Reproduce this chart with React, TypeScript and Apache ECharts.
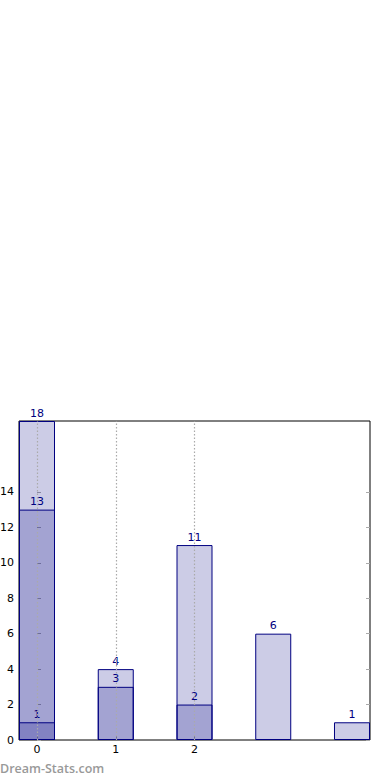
import React, { useEffect, useRef } from "react";
import * as echarts from "echarts";

const positions = [0, 1, 2, 3, 4];
const totalValues = [18, 4, 11, 6, 1];
const midValues: (number | null)[] = [13, 3, 2, null, null];
const lowValues: (number | null)[] = [1, null, null, null, null];
const xTickLabels = [0, 1, 2];
const yTickLabels = [0, 2, 4, 6, 8, 10, 12, 14];

const NAVY = "#000080";
const FILL = "rgba(0,0,128,0.2)";

function toPairs(vals: (number | null)[]) {
  return positions
    .map((p, i) => (vals[i] == null ? null : [p, vals[i]]))
    .filter((d) => d !== null);
}

export default function App() {
  const ref = useRef<HTMLDivElement>(null);
  useEffect(() => {
    document.body.style.margin = "0";
    const chart = echarts.init(ref.current!, null, { renderer: "svg" });
    const barBase = {
      type: "bar",
      barWidth: 36,
      barGap: "-100%",
      itemStyle: { color: FILL, borderColor: NAVY, borderWidth: 1 },
      label: {
        show: true,
        position: "top",
        distance: 2.5,
        color: NAVY,
        fontSize: 11,
        fontFamily: "DejaVu Sans",
      },
      emphasis: { disabled: true },
      silent: true,
    };
    chart.setOption({
      animation: false,
      grid: {
        left: 19,
        right: 20,
        top: 421,
        bottom: 40,
        show: true,
        borderColor: "#000",
        borderWidth: 1,
        backgroundColor: "transparent",
        outerBoundsMode: "none",
        containLabel: false,
      },
      xAxis: {
        type: "value",
        min: -0.2286,
        max: 4.2286,
        axisLine: { show: false },
        splitLine: { show: false },
        axisTick: {
          show: true,
          inside: true,
          length: 4,
          customValues: xTickLabels,
          lineStyle: { color: "#aaa" },
        },
        axisLabel: {
          customValues: xTickLabels,
          color: "#000",
          fontSize: 11,
          fontFamily: "DejaVu Sans",
          margin: 4,
        },
      },
      yAxis: [
        {
          type: "value",
          min: 0,
          max: 18,
          axisLine: { show: false },
          splitLine: { show: false },
          axisTick: {
            show: true,
            inside: true,
            length: 4,
            customValues: yTickLabels,
            lineStyle: { color: "#aaa" },
          },
          axisLabel: {
            customValues: yTickLabels,
            color: "#000",
            fontSize: 11,
            fontFamily: "DejaVu Sans",
            margin: 5,
          },
        },
        {
          type: "value",
          min: 0,
          max: 18,
          position: "right",
          axisLine: { show: false },
          splitLine: { show: false },
          axisTick: {
            show: true,
            inside: true,
            length: 4,
            customValues: yTickLabels,
            lineStyle: { color: "#aaa" },
          },
          axisLabel: { show: false },
        },
      ],
      series: [
        { ...barBase, name: "total", data: toPairs(totalValues) },
        { ...barBase, name: "mid", data: toPairs(midValues) },
        { ...barBase, name: "low", data: toPairs(lowValues) },
        {
          type: "line",
          data: [],
          z: 10,
          silent: true,
          markLine: {
            silent: true,
            symbol: "none",
            label: { show: false },
            lineStyle: { color: "#aaa", type: [1.5, 2], width: 1.2 },
            data: xTickLabels.map((v) => ({ xAxis: v })),
          },
        },
      ],
      graphic: [
        {
          type: "text",
          left: 0,
          top: 762,
          style: {
            text: "Dream-Stats.com",
            fill: "#999",
            fontSize: 12.5,
            fontWeight: 600,
            fontFamily: "Open Sans",
          },
        },
      ],
    });
    return () => chart.dispose();
  }, []);
  return (
    <div
      ref={ref}
      style={{ position: "absolute", left: 0, top: 0, width: 390, height: 780 }}
    />
  );
}
